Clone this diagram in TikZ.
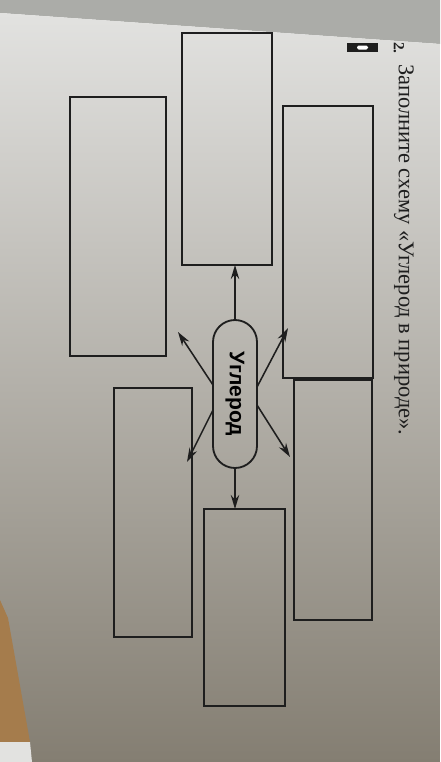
\documentclass[tikz,border=0pt]{standalone}
\usepackage{graphicx}
\usepackage{fontspec}
\setmainfont{Liberation Serif}
\newfontfamily\pillfont{Liberation Sans}
\usetikzlibrary{arrows.meta}

\definecolor{ink}{HTML}{1E1E1E}
\definecolor{pagetop}{HTML}{E2E2E0}
\definecolor{pagebot}{HTML}{847E72}
\definecolor{strip}{HTML}{ABACA8}
\definecolor{cork}{HTML}{A57C4C}

\begin{document}
\begin{tikzpicture}[x=0.05cm, y=-0.05cm,
	box/.style={draw=ink, line width=2.6pt, inner sep=0pt, outer sep=0pt},
	pill/.style={draw=ink, line width=2.6pt, rounded corners=1.1cm, minimum width=2.2cm, minimum height=7.4cm, inner sep=0pt, outer sep=0pt, font=\pillfont\bfseries\fontsize{30}{32}\selectfont},
	arr/.style={draw=ink, line width=2.2pt, -{Stealth[length=0.7cm, width=0.42cm]}},
	task/.style={rotate=-90, anchor=west, text=ink, inner sep=0pt}]
	\useasboundingbox (0,0) rectangle (440,762);
	
	\fill[strip] (0,0) -- (440,0) -- (440,44) -- (0,13) -- cycle;
	\shade[top color=pagetop, bottom color=pagebot] (0,13) -- (440,44) -- (440,762) -- (0,762) -- cycle;
	\fill[cork] (0,600) -- (8,618) -- (30,742) -- (0,742) -- cycle;
	\fill[pagetop] (0,742) -- (30,742) -- (32,762) -- (0,762) -- cycle;
	
	\node[task, font=\bfseries\fontsize{22}{24}\selectfont] (num) at (399,42) {2.};
	\node[fill=ink, minimum width=1.55cm, minimum height=0.45cm, inner sep=0pt] (icon) at (362.5,47.5) {};
	\fill[white, rounded corners=0.08cm] (357,45.5) rectangle (368,49.5);
	\node[task, font=\fontsize{32}{34}\selectfont] (title) at (404,64) {Заполните схему «Углерод в природе».};
	
	\node[box, minimum width=4.5cm, minimum height=11.6cm] (top) at (227,149) {};
	\node[box, minimum width=4.8cm, minimum height=12.95cm] (upleft) at (118,226.5) {};
	\node[box, minimum width=4.5cm, minimum height=13.6cm] (upright) at (328,242) {};
	\node[box, minimum width=3.9cm, minimum height=12.45cm] (lowleft) at (153,512.5) {};
	\node[box, minimum width=4.05cm, minimum height=9.85cm] (bottom) at (244.5,607.5) {};
	\node[box, minimum width=3.9cm, minimum height=12cm] (lowright) at (333,500) {};
	
	\node[pill] (carbon) at (235,394) {\rotatebox{-90}{Углерод}};
	
	\coordinate (ul) at (178,332);
	\coordinate (ur) at (288,328);
	\coordinate (dl) at (187,462);
	\coordinate (dr) at (290,457);
	
	\path[arr] (carbon.north) -- (carbon.north |- top.south);
	\path[arr] (carbon.south) -- (carbon.south |- bottom.north);
	\path[arr] ([yshift=0.45cm]carbon.west) -- (ul);
	\path[arr] ([yshift=-0.8cm]carbon.west) -- (dl);
	\path[arr] ([yshift=0.35cm]carbon.east) -- (ur);
	\path[arr] ([yshift=-0.55cm]carbon.east) -- (dr);
\end{tikzpicture}
\end{document}
